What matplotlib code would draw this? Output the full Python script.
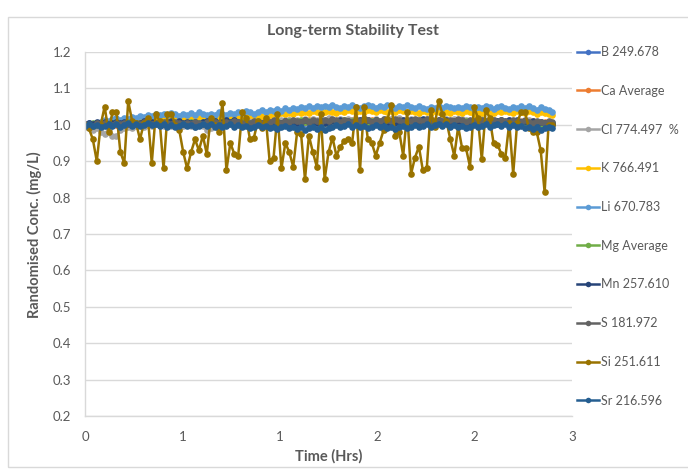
import matplotlib
matplotlib.use("Agg")
import numpy as np
from matplotlib import pyplot as plt
from matplotlib.patches import Rectangle

# Czas pomiaru (h) - probki co ~1.45 min
n_points = 120
time_step = 0.0242
time_hrs = np.arange(n_points) * time_step

b_249 = [
    1.000, 1.004, 0.999, 1.003, 1.006, 1.001, 1.005, 1.000, 1.004, 1.007, 1.002, 1.006, 1.001, 1.005, 1.008, 1.003, 1.007, 1.002, 1.006, 1.001,
    1.005, 1.009, 1.004, 1.008, 1.003, 1.007, 1.002, 1.006, 1.010, 1.005, 1.009, 1.004, 1.008, 1.003, 1.007, 1.011, 1.006, 1.010, 1.005, 1.009,
    1.004, 1.008, 1.003, 1.007, 1.011, 1.006, 1.010, 1.005, 1.009, 1.004, 1.008, 1.012, 1.007, 1.011, 1.006, 1.010, 1.005, 1.009, 1.013, 1.008,
    1.012, 1.007, 1.011, 1.006, 1.010, 1.005, 1.009, 1.013, 1.008, 1.012, 1.007, 1.011, 1.006, 1.010, 1.014, 1.009, 1.013, 1.008, 1.012, 1.007,
    1.011, 1.006, 1.010, 1.005, 1.009, 1.013, 1.008, 1.012, 1.007, 1.011, 1.006, 1.010, 1.005, 1.009, 1.004, 1.008, 1.012, 1.007, 1.011, 1.006,
    1.010, 1.005, 1.009, 1.004, 1.008, 1.003, 1.007, 1.011, 1.006, 1.010, 1.005, 1.009, 1.004, 1.008, 1.003, 1.007, 1.002, 1.006, 1.001, 1.004,
]
ca_avg = [
    1.001, 0.998, 1.003, 1.000, 1.004, 1.001, 0.998, 1.003, 1.000, 1.005, 1.002, 0.999, 1.004, 1.001, 1.006, 1.003, 1.000, 1.005, 1.002, 1.007,
    1.004, 1.001, 1.006, 1.003, 1.008, 1.005, 1.002, 1.007, 1.004, 1.001, 1.006, 1.003, 1.008, 1.005, 1.002, 1.007, 1.004, 1.009, 1.006, 1.003,
    1.008, 1.005, 1.010, 1.007, 1.004, 1.009, 1.006, 1.011, 1.008, 1.005, 1.010, 1.007, 1.012, 1.009, 1.006, 1.011, 1.008, 1.013, 1.010, 1.007,
    1.012, 1.009, 1.006, 1.011, 1.008, 1.013, 1.010, 1.007, 1.012, 1.009, 1.014, 1.011, 1.008, 1.013, 1.010, 1.007, 1.012, 1.009, 1.014, 1.011,
    1.008, 1.013, 1.010, 1.007, 1.012, 1.009, 1.006, 1.011, 1.008, 1.013, 1.010, 1.007, 1.012, 1.009, 1.006, 1.011, 1.008, 1.005, 1.010, 1.007,
    1.012, 1.009, 1.006, 1.011, 1.008, 1.005, 1.010, 1.007, 1.004, 1.009, 1.006, 1.011, 1.008, 1.005, 1.010, 1.007, 1.004, 1.009, 1.006, 1.003,
]
cl_774 = [
    0.995, 0.990, 0.985, 0.992, 0.980, 0.975, 0.988, 0.970, 0.968, 0.985, 0.990, 0.995, 0.992, 0.998, 1.000, 0.995, 1.002, 0.998, 1.003, 1.000,
    0.996, 1.002, 0.998, 1.004, 1.000, 0.996, 1.002, 0.998, 0.994, 1.000, 0.996, 0.985, 0.992, 0.998, 1.003, 1.000, 1.005, 1.001, 1.006, 1.002,
    1.007, 1.003, 1.008, 1.004, 1.009, 1.005, 1.010, 1.006, 1.011, 1.007, 1.012, 1.008, 1.013, 1.009, 1.014, 1.010, 1.015, 1.011, 1.016, 1.012,
    1.017, 1.013, 1.018, 1.014, 1.010, 1.015, 1.011, 1.016, 1.012, 1.017, 1.013, 1.018, 1.014, 1.010, 1.015, 1.011, 1.016, 1.012, 1.017, 1.013,
    1.018, 1.014, 1.010, 1.015, 1.011, 1.016, 1.012, 1.017, 1.013, 1.009, 1.014, 1.010, 1.015, 1.011, 1.016, 1.012, 1.017, 1.013, 1.009, 1.014,
    1.010, 1.015, 1.011, 1.016, 1.012, 1.008, 1.013, 1.009, 1.014, 1.010, 1.006, 1.011, 1.007, 1.012, 1.008, 1.004, 1.009, 1.005, 1.001, 1.003,
]
k_766 = [
    1.000, 0.998, 1.001, 1.003, 1.002, 1.006, 1.004, 1.008, 1.005, 1.010, 1.007, 1.012, 1.009, 1.013, 1.010, 1.015, 1.012, 1.016, 1.013, 1.018,
    1.015, 1.019, 1.016, 1.020, 1.017, 1.014, 1.019, 1.016, 1.021, 1.018, 1.015, 1.020, 1.017, 1.022, 1.019, 1.016, 1.021, 1.018, 1.023, 1.020,
    1.024, 1.021, 1.026, 1.023, 1.027, 1.024, 1.029, 1.026, 1.030, 1.027, 1.032, 1.029, 1.033, 1.030, 1.035, 1.032, 1.036, 1.033, 1.037, 1.034,
    1.038, 1.035, 1.039, 1.036, 1.033, 1.038, 1.035, 1.040, 1.037, 1.034, 1.039, 1.036, 1.041, 1.038, 1.035, 1.040, 1.037, 1.034, 1.039, 1.036,
    1.040, 1.037, 1.034, 1.039, 1.036, 1.033, 1.038, 1.035, 1.032, 1.037, 1.034, 1.039, 1.036, 1.033, 1.038, 1.035, 1.032, 1.037, 1.034, 1.031,
    1.036, 1.033, 1.038, 1.035, 1.032, 1.037, 1.034, 1.039, 1.036, 1.033, 1.038, 1.035, 1.032, 1.037, 1.034, 1.031, 1.035, 1.032, 1.029, 1.026,
]
li_670 = [
    1.000, 1.002, 1.001, 1.005, 1.008, 1.012, 1.010, 1.015, 1.018, 1.014, 1.020, 1.017, 1.022, 1.019, 1.025, 1.021, 1.028, 1.024, 1.030, 1.026,
    1.031, 1.027, 1.033, 1.029, 1.025, 1.030, 1.027, 1.032, 1.028, 1.034, 1.030, 1.026, 1.031, 1.028, 1.035, 1.031, 1.027, 1.033, 1.029, 1.036,
    1.032, 1.038, 1.034, 1.030, 1.036, 1.040, 1.035, 1.041, 1.037, 1.043, 1.039, 1.045, 1.041, 1.047, 1.043, 1.049, 1.045, 1.051, 1.046, 1.052,
    1.048, 1.053, 1.049, 1.054, 1.050, 1.046, 1.052, 1.048, 1.054, 1.050, 1.046, 1.052, 1.055, 1.051, 1.047, 1.053, 1.049, 1.055, 1.051, 1.047,
    1.052, 1.048, 1.054, 1.050, 1.046, 1.051, 1.047, 1.043, 1.049, 1.045, 1.051, 1.047, 1.053, 1.049, 1.045, 1.050, 1.046, 1.052, 1.048, 1.044,
    1.050, 1.046, 1.052, 1.048, 1.044, 1.049, 1.053, 1.047, 1.043, 1.049, 1.045, 1.051, 1.047, 1.052, 1.046, 1.042, 1.048, 1.044, 1.040, 1.036,
]
mg_avg = [
    0.999, 1.002, 1.005, 1.000, 1.003, 1.006, 1.001, 1.004, 1.007, 1.002, 1.005, 1.008, 1.003, 1.006, 1.001, 1.004, 1.007, 1.002, 1.005, 1.008,
    1.003, 1.006, 1.009, 1.004, 1.007, 1.002, 1.005, 1.008, 1.003, 1.006, 1.009, 1.004, 1.007, 1.010, 1.005, 1.008, 1.003, 1.006, 1.009, 1.004,
    1.007, 1.010, 1.005, 1.008, 1.011, 1.006, 1.009, 1.004, 1.007, 1.010, 1.005, 1.008, 1.011, 1.006, 1.009, 1.012, 1.007, 1.010, 1.005, 1.008,
    1.011, 1.006, 1.009, 1.012, 1.007, 1.010, 1.013, 1.008, 1.011, 1.006, 1.009, 1.012, 1.007, 1.010, 1.013, 1.008, 1.011, 1.006, 1.009, 1.012,
    1.007, 1.010, 1.005, 1.008, 1.011, 1.006, 1.009, 1.012, 1.007, 1.010, 1.005, 1.008, 1.011, 1.006, 1.009, 1.004, 1.007, 1.010, 1.005, 1.008,
    1.003, 1.006, 1.009, 1.004, 1.007, 1.010, 1.005, 1.008, 1.003, 1.006, 1.009, 1.004, 1.007, 1.002, 1.005, 1.008, 1.003, 1.006, 1.001, 1.004,
]
mn_257 = [
    1.002, 1.006, 1.001, 1.008, 1.003, 1.007, 1.002, 1.005, 1.009, 1.004, 1.008, 1.003, 1.007, 1.002, 1.006, 1.010, 1.005, 1.009, 1.004, 1.008,
    1.003, 1.007, 1.011, 1.006, 1.010, 1.005, 1.009, 1.004, 1.008, 1.003, 1.007, 1.011, 1.006, 1.010, 1.005, 1.009, 1.013, 1.008, 1.012, 1.007,
    1.002, 1.006, 1.001, 1.005, 1.009, 1.004, 1.008, 1.003, 1.007, 1.002, 1.006, 1.010, 1.005, 1.009, 1.004, 1.008, 1.012, 1.007, 1.011, 1.006,
    1.010, 1.005, 1.009, 1.013, 1.008, 1.012, 1.007, 1.011, 1.006, 1.010, 1.014, 1.009, 1.013, 1.008, 1.012, 1.007, 1.011, 1.006, 1.010, 1.005,
    1.009, 1.013, 1.008, 1.012, 1.007, 1.011, 1.015, 1.010, 1.014, 1.009, 1.013, 1.008, 1.012, 1.007, 1.011, 1.006, 1.010, 1.005, 1.009, 1.004,
    1.008, 1.003, 1.007, 1.011, 1.006, 1.010, 1.014, 1.009, 1.013, 1.008, 1.012, 1.007, 1.011, 1.006, 1.010, 1.005, 1.009, 1.004, 1.008, 1.003,
]
s_181 = [
    1.000, 1.003, 0.998, 1.004, 1.001, 1.005, 1.002, 0.999, 1.004, 1.001, 1.006, 1.003, 1.000, 1.005, 1.002, 1.007, 1.004, 1.001, 1.006, 1.003,
    1.008, 1.005, 1.002, 1.007, 1.004, 1.001, 1.006, 1.003, 1.008, 1.005, 1.002, 1.007, 1.004, 1.009, 1.006, 1.003, 1.008, 1.005, 1.010, 1.007,
    1.004, 1.009, 1.006, 1.011, 1.008, 1.005, 1.010, 1.007, 1.012, 1.009, 1.006, 1.011, 1.008, 1.013, 1.010, 1.007, 1.012, 1.009, 1.014, 1.011,
    1.008, 1.013, 1.010, 1.015, 1.012, 1.009, 1.014, 1.011, 1.008, 1.013, 1.010, 1.015, 1.012, 1.009, 1.014, 1.011, 1.016, 1.013, 1.010, 1.015,
    1.012, 1.009, 1.014, 1.011, 1.016, 1.013, 1.010, 1.015, 1.012, 1.009, 1.014, 1.011, 1.008, 1.013, 1.010, 1.015, 1.012, 1.009, 1.014, 1.011,
    1.008, 1.013, 1.010, 1.007, 1.012, 1.009, 1.014, 1.011, 1.008, 1.013, 1.010, 1.007, 1.012, 1.009, 1.006, 1.011, 1.008, 1.005, 1.010, 1.007,
]
si_251 = [
    1.000, 0.990, 0.960, 0.900, 1.000, 1.050, 0.980, 1.035, 1.035, 0.925, 0.895, 1.065, 1.010, 1.005, 0.960, 1.005, 1.020, 0.895, 1.030, 1.010,
    0.880, 1.030, 1.030, 1.000, 0.985, 0.925, 0.880, 0.925, 0.960, 0.930, 0.970, 0.920, 1.020, 1.000, 0.980, 1.060, 0.875, 0.950, 0.920, 0.915,
    1.035, 1.020, 0.960, 0.965, 1.010, 0.990, 1.020, 0.900, 0.910, 1.030, 0.880, 0.950, 0.925, 0.885, 0.980, 0.975, 0.850, 0.970, 0.925, 0.885,
    1.030, 0.850, 0.925, 0.965, 0.915, 0.940, 0.955, 0.960, 0.950, 1.050, 0.875, 1.050, 0.960, 0.950, 0.915, 0.950, 0.985, 1.015, 1.055, 0.970,
    0.980, 0.915, 1.035, 0.865, 0.910, 0.940, 0.875, 0.880, 1.040, 0.995, 1.065, 1.030, 1.010, 0.960, 0.915, 0.995, 0.935, 0.935, 0.885, 1.050,
    1.020, 0.905, 1.040, 1.020, 0.950, 0.945, 0.920, 0.910, 1.005, 0.865, 1.005, 1.035, 1.035, 0.990, 0.980, 0.980, 0.930, 0.815, 1.000, 1.000,
]
sr_216 = [
    0.998, 1.002, 0.996, 1.000, 0.994, 0.998, 1.003, 0.997, 1.001, 0.995, 0.999, 1.004, 0.998, 1.002, 0.996, 1.000, 1.005, 0.999, 1.003, 0.997,
    1.001, 0.995, 0.999, 0.993, 0.997, 1.002, 0.996, 1.000, 0.994, 0.998, 1.003, 0.997, 1.001, 0.995, 0.999, 0.993, 0.997, 1.001, 0.995, 0.999,
    0.993, 0.997, 0.991, 0.995, 0.999, 0.993, 0.997, 0.991, 0.995, 0.989, 0.993, 0.997, 0.991, 0.995, 0.989, 0.993, 0.987, 0.991, 0.995, 0.989,
    0.993, 0.987, 0.991, 0.995, 0.999, 0.993, 0.997, 1.001, 0.995, 0.999, 0.993, 0.997, 0.991, 0.995, 0.999, 0.993, 0.997, 0.991, 0.995, 0.989,
    0.993, 0.997, 0.991, 0.995, 0.999, 0.993, 0.997, 1.001, 0.995, 0.999, 1.003, 0.997, 1.001, 0.995, 0.999, 0.993, 0.997, 0.991, 0.995, 0.999,
    0.993, 0.997, 1.001, 0.995, 0.999, 1.003, 0.997, 1.001, 0.995, 0.999, 0.993, 0.997, 0.991, 0.995, 0.989, 0.993, 0.987, 0.991, 0.995, 0.990,
]

series_names = ['B 249.678', 'Ca Average', 'Cl 774.497  %', 'K 766.491', 'Li 670.783',
                'Mg Average', 'Mn 257.610', 'S 181.972', 'Si 251.611', 'Sr 216.596']
series_values = [b_249, ca_avg, cl_774, k_766, li_670, mg_avg, mn_257, s_181, si_251, sr_216]
series_colors = ['#4472C4', '#ED7D31', '#A5A5A5', '#FFC000', '#5B9BD5',
                 '#70AD47', '#264478', '#636363', '#997300', '#255E91']

x_ticks = [0, 0.6, 1.2, 1.8, 2.4, 3.0]
x_tick_labels = ['0', '1', '1', '2', '2', '3']
y_ticks = [0.2, 0.3, 0.4, 0.5, 0.6, 0.7, 0.8, 0.9, 1.0, 1.1, 1.2]

txt = '#595959'
grid = '#D9D9D9'
plt.rcParams['font.family'] = ['Lato', 'DejaVu Sans']

W, H = 688, 471
fig = plt.figure(figsize=(W / 100, H / 100), dpi=100)
ax = fig.add_axes([85 / W, 1 - 416 / H, (572 - 85) / W, (416 - 52) / H])

# ramka wykresu jak w Excelu
fig.patches.append(Rectangle((8 / W, 1 - 467 / H), 1.2, (467 - 17) / H, transform=fig.transFigure,
                             fill=False, edgecolor=grid, linewidth=1.0))

for name, vals, col in zip(series_names, series_values, series_colors):
    ax.plot(time_hrs, vals, color=col, linewidth=1.8, marker='o', markersize=4.8,
            markeredgewidth=0, label=name)

ax.set_xlim(0, 3)
ax.set_ylim(0.2, 1.2)
ax.set_xticks(x_ticks)
ax.set_xticklabels(x_tick_labels)
ax.set_yticks(y_ticks)
ax.set_yticklabels([f'{v:.1f}' for v in y_ticks])
ax.tick_params(length=0, colors=txt, labelsize=9.5)
ax.tick_params(axis='x', pad=11)
ax.tick_params(axis='y', pad=10)
ax.grid(axis='y', color=grid, linewidth=1.0)
ax.set_axisbelow(True)
for sp in ['top', 'right']:
    ax.spines[sp].set_visible(False)
for sp in ['left', 'bottom']:
    ax.spines[sp].set_color(grid)
    ax.spines[sp].set_linewidth(1.0)

fig.text(353 / W, 1 - 31 / H, 'Long-term Stability Test', ha='center', va='center',
         fontsize=11.5, fontweight='bold', color=txt)
fig.text(329 / W, 1 - 456 / H, 'Time (Hrs)', ha='center', va='center',
         fontsize=10.5, fontweight='bold', color=txt)
fig.text(34 / W, 1 - 235 / H, 'Randomised Conc. (mg/L)', ha='center', va='center',
         rotation=90, fontsize=10.5, fontweight='bold', color=txt)

leg = fig.legend(loc='upper left', bbox_to_anchor=(577 / W, 1 - 46 / H), frameon=False,
                 fontsize=9, labelspacing=2.14, handlelength=1.75, handletextpad=0.15,
                 borderpad=0, borderaxespad=0)
for t in leg.get_texts():
    t.set_color(txt)
for h in leg.legend_handles:
    h.set_markersize(4)

fig.savefig('out.png', dpi=100)
